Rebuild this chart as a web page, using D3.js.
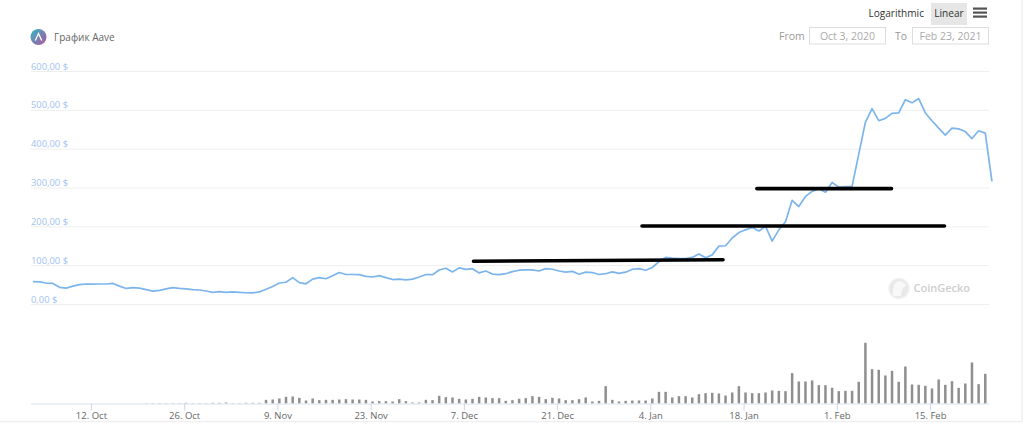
<!DOCTYPE html>
<html><head><meta charset="utf-8">
<style>
html,body{margin:0;padding:0;background:#fff;overflow:hidden}
svg{display:block;font-family:"Open Sans",sans-serif}
</style>
<script src="https://cdn.jsdelivr.net/npm/d3@7"></script>
</head><body><svg id="c" width="1024" height="427"></svg>
<script>
const startDate = "2020-10-03";
const priceValues = [57.5,57,54,53,43,41,46,50,51.5,51,51.5,51.5,53,46,40,42,41,37,33,35,39,42,40,39,37,36,33.5,30,32,30,31,30,29,28.5,31,38,45,54,56,68,55,52,64,68,65,73,81,76,76,75.5,71,69.5,73,68,63,64,62,64,69.5,76,75.5,87.5,92,82.5,93,89,91,80,85,77,75.5,78,
83.5,87,88,88,85,91,89.5,85,82,84,76.5,82,81,76,78,82.6,79,82,89.5,91,87,94,109,120,118,117,117,120,129,119,126.5,149,150,170,184,191,197,188,200,162,191,212,267,251,277,290,297,288,313,301,302,303,386,468,503,472,478,491,492,526,518,529,492,472,453,435,453,451,444,426,446,440,316];
const volumeValues = [0,0,0,0,0,0,0,0,0,0,0,0,0,0,0,0,0,1,1,1,1,1,1,2,1,1,1,2,2,3,1,1,2,2,2,11,12,15,20,21,17,9,15,10,11,11,12,13,12,12,11,6,7,7,6,13,7,3,3,11,10,23,19,18,14,12,14,20,18,16,16,8,
10,14,16,22,20,13,17,15,10,10,13,18,6,8,52,11,6,8,9,9,9,15,35,35,18,22,22,18,28,31,32,30,24,33,52,33,31,31,33,39,38,37,91,66,66,69,55,55,47,37,38,38,65,182,103,101,84,98,65,111,57,56,53,45,72,56,67,47,60,123,58,89];
const yTicks = [0,100,200,300,400,500,600];
const xTickDates = ["2020-10-12","2020-10-26","2020-11-09","2020-11-23","2020-12-07","2020-12-21","2021-01-04","2021-01-18","2021-02-01","2021-02-15"];
const xTickLabels = ["12. Oct","26. Oct","9. Nov","23. Nov","7. Dec","21. Dec","4. Jan","18. Jan","1. Feb","15. Feb"];
const markerFrom = ["2020-12-08T10:30Z","2021-01-02T18:00Z","2021-01-20T00:00Z"];
const markerTo = ["2021-01-14T22:00Z","2021-02-17T04:00Z","2021-02-09T05:00Z"];
const markerStartValue = [110,201,297];
const markerEndValue = [114,201,297];

const day = 864e5, t0 = Date.parse(startDate + "T07:00Z");
const dates = priceValues.map((_, i) => new Date(t0 + i * day));
const x = d3.scaleUtc().domain([new Date("2020-10-03T00:00Z"), new Date("2021-02-24T00:00Z")]).range([31, 990]);
const y = d3.scaleLinear().domain([0, 600]).range([304, 71]);
const yV = d3.scaleLinear().domain([0, 182]).range([403.5, 342.8]);
const svg = d3.select("#c");
const FONT = '"Open Sans",sans-serif';

// frame of the screenshot
svg.append("path").attr("d", "M0 421.5H1022V0").attr("fill", "none").attr("stroke", "#efefef").attr("stroke-width", 1.5);

// grid and y labels
const gy = svg.append("g").attr("transform", "translate(31,0)")
  .call(d3.axisLeft(y).tickValues(yTicks).tickSize(-958).tickFormat(d => d3.format(".2f")(d).replace(".", ",") + " $"));
gy.attr("font-family", FONT).attr("font-size", null);
gy.select(".domain").remove();
gy.selectAll(".tick line").attr("stroke", "#eeeeee");
gy.selectAll(".tick text").attr("x", 0).attr("dy", -2).attr("text-anchor", "start")
  .attr("fill", "#9fc2f2").attr("font-size", 9.4);

// line
svg.append("path").datum(priceValues).attr("fill", "none").attr("stroke", "#7cb5ec").attr("stroke-width", 1.7)
  .attr("stroke-linejoin", "round")
  .attr("d", d3.line().x((d, i) => x(dates[i])).y(d => y(d)));

// watermark
const wm = svg.append("g").attr("opacity", .9);
wm.append("circle").attr("cx", 899).attr("cy", 288.5).attr("r", 10).attr("fill", "#e6e6e6").attr("stroke", "#f0f0f0").attr("stroke-width", 1.5);
wm.append("path").attr("d", "M893 296 Q892 282 899 281 Q904 281 906 286 L903 288 Q901 292 901 296 Z").attr("fill", "#f8f8f8");
wm.append("text").attr("x", 913.5).attr("y", 292).attr("fill", "#c9c9c9").attr("font-size", 11).attr("font-weight", 600).text("CoinGecko");

// volume bars
svg.append("g").selectAll("rect").data(volumeValues).join("rect")
  .attr("x", (d, i) => x(dates[i]) - 1.25).attr("width", 2.5)
  .attr("y", d => yV(d)).attr("height", d => yV(0) - yV(d)).attr("fill", "#8f8f8f");

// x axis
const gx = svg.append("g").attr("transform", "translate(0,403.5)")
  .call(d3.axisBottom(x).tickValues(xTickDates.map(d => new Date(d + "T00:00Z"))).tickSize(7).tickPadding(2)
    .tickFormat((d, i) => xTickLabels[i]));
gx.attr("font-family", FONT).attr("font-size", null);
gx.select(".domain").attr("stroke", "#d8e2f2").attr("d", "M31 0.5H989");
gx.selectAll(".tick line").attr("stroke", "#ccd6eb");
gx.selectAll(".tick text").attr("fill", "#666").attr("font-size", 9.5);

// hand-drawn markers
svg.append("g").selectAll("line").data(markerStartValue).join("line")
  .attr("x1", (d, i) => x(new Date(markerFrom[i]))).attr("x2", (d, i) => x(new Date(markerTo[i])))
  .attr("y1", d => y(d)).attr("y2", (d, i) => y(markerEndValue[i]))
  .attr("stroke", "#000").attr("stroke-width", 3.6).attr("stroke-linecap", "round");

// title and logo
const defs = svg.append("defs");
const lg = defs.append("linearGradient").attr("id", "aave").attr("x1", 0).attr("y1", 0).attr("x2", 1).attr("y2", 1);
lg.append("stop").attr("offset", 0).attr("stop-color", "#2ebac6");
lg.append("stop").attr("offset", 1).attr("stop-color", "#b6509e");
svg.append("circle").attr("cx", 38.5).attr("cy", 37).attr("r", 8).attr("fill", "url(#aave)");
svg.append("path").attr("d", "M35.3 40.5L38.5 33.5L41.7 40.5").attr("fill", "none").attr("stroke", "#fff").attr("stroke-width", 1.3);
svg.append("text").attr("x", 54).attr("y", 41).attr("fill", "#666").attr("font-size", 10).text("График Aave");

// toolbar
svg.append("rect").attr("x", 931).attr("y", 3).attr("width", 36).attr("height", 22).attr("fill", "#e6e6e6");
svg.append("text").attr("x", 924).attr("y", 17).attr("text-anchor", "end").attr("fill", "#333").attr("font-size", 10.1).text("Logarithmic");
svg.append("text").attr("x", 949).attr("y", 17).attr("text-anchor", "middle").attr("fill", "#333").attr("font-size", 10.1).text("Linear");
svg.append("g").selectAll("rect").data([0, 1, 2]).join("rect")
  .attr("x", 973).attr("y", d => 7.5 + d * 4).attr("width", 14).attr("height", 2.2).attr("fill", "#555");
svg.append("text").attr("x", 779).attr("y", 40).attr("fill", "#999").attr("font-size", 10.5).text("From");
svg.append("text").attr("x", 895).attr("y", 40).attr("fill", "#999").attr("font-size", 10.5).text("To");
[["Oct 3, 2020", 809.5], ["Feb 23, 2021", 912.5]].forEach(([t, bx]) => {
  svg.append("rect").attr("x", bx).attr("y", 27.5).attr("width", 76).attr("height", 16.5).attr("fill", "#fff").attr("stroke", "#ddd");
  svg.append("text").attr("x", bx + 38).attr("y", 40).attr("text-anchor", "middle").attr("fill", "#aaa").attr("font-size", 10.5).text(t);
});
</script></body></html>
